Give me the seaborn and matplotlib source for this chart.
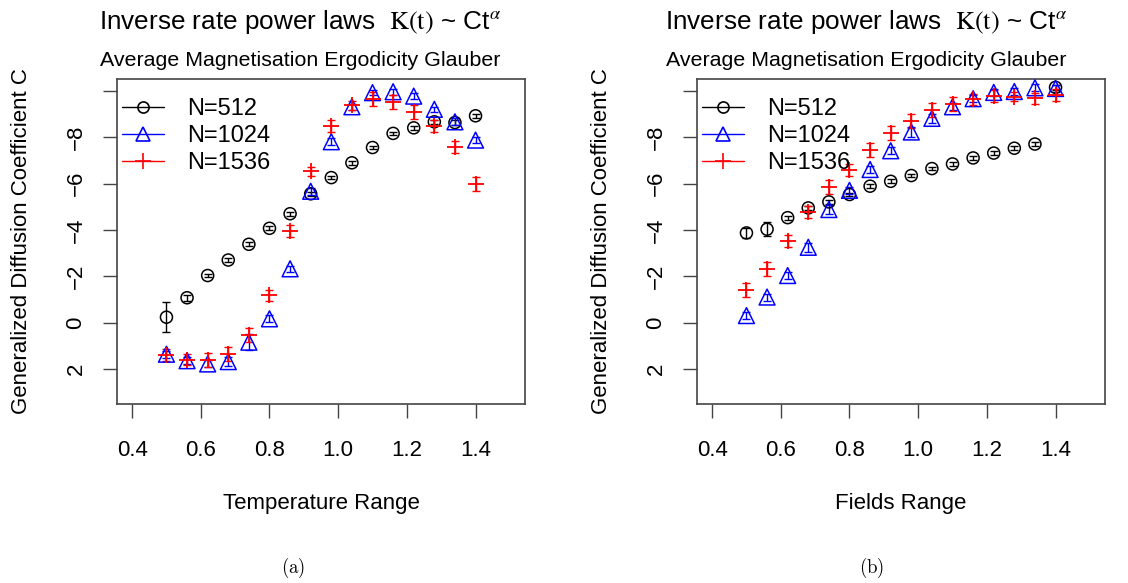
import matplotlib
matplotlib.use("Agg")
import matplotlib.pyplot as plt
from matplotlib.lines import Line2D
import seaborn as sns

# valores (eixo y invertido, como no original)
temp_x = [0.50, 0.56, 0.62, 0.68, 0.74, 0.80, 0.86, 0.92,
          0.98, 1.04, 1.10, 1.16, 1.22, 1.28, 1.34, 1.40]
fields_x = [0.50, 0.56, 0.62, 0.68, 0.74, 0.80, 0.86, 0.92,
            0.98, 1.04, 1.10, 1.16, 1.22, 1.28, 1.34, 1.40]

temp_512 = [-0.23, -1.07, -2.03, -2.70, -3.38, -4.07, -4.70, -5.56,
            -6.26, -6.90, -7.56, -8.17, -8.41, -8.67, -8.64, -8.93]
temp_512_err = [0.66, 0.12, 0.08, 0.08, 0.08, 0.08, 0.08, 0.08,
                0.08, 0.08, 0.08, 0.08, 0.08, 0.1, 0.1, 0.08]
temp_1024 = [1.37, 1.65, 1.79, 1.69, 0.85, -0.16, -2.32, -5.67,
             -7.81, -9.32, -9.93, -9.97, -9.78, -9.21, -8.67, -7.88]
temp_1024_err = [0.15, 0.15, 0.15, 0.2, 0.35, 0.15, 0.12, 0.15,
                 0.15, 0.12, 0.12, 0.12, 0.12, 0.12, 0.15, 0.12]
temp_1536 = [1.40, 1.60, 1.62, 1.36, 0.53, -1.17, -3.95, -6.54,
             -8.48, -9.39, -9.65, -9.54, -9.08, -8.50, -7.59, -5.97]
temp_1536_err = [0.25, 0.25, 0.3, 0.3, 0.3, 0.25, 0.25, 0.2,
                 0.25, 0.2, 0.3, 0.3, 0.3, 0.25, 0.25, 0.3]

fields_512 = [-3.87, -4.03, -4.53, -4.95, -5.21, -5.53, -5.89, -6.10,
              -6.35, -6.65, -6.85, -7.11, -7.32, -7.53, -7.71, -10.16]
fields_512_err = [0.2, 0.3, 0.08, 0.08, 0.08, 0.08, 0.08, 0.08,
                  0.08, 0.08, 0.08, 0.08, 0.08, 0.08, 0.08, 0.1]
fields_1024 = [-0.30, -1.10, -2.03, -3.25, -4.88, -5.71, -6.61, -7.42,
               -8.23, -8.82, -9.32, -9.67, -9.94, -9.98, -10.14, -10.11]
fields_1024_err = [0.15, 0.15, 0.15, 0.2, 0.2, 0.15, 0.15, 0.15,
                   0.2, 0.2, 0.15, 0.15, 0.15, 0.15, 0.15, 0.15]
fields_1536 = [-1.39, -2.31, -3.51, -4.78, -5.86, -6.58, -7.47, -8.17,
               -8.72, -9.18, -9.44, -9.64, -9.78, -9.75, -9.68, -9.83]
fields_1536_err = [0.3, 0.3, 0.25, 0.25, 0.3, 0.25, 0.3, 0.3,
                   0.3, 0.3, 0.3, 0.25, 0.25, 0.2, 0.25, 0.25]

series_labels = ["N=512", "N=1024", "N=1536"]
y_ticks = [-10, -8, -6, -4, -2, 0, 2]
y_tick_labels = ["", "\u22128", "\u22126", "\u22124", "\u22122", "0", "2"]
x_ticks = [0.4, 0.6, 0.8, 1.0, 1.2, 1.4]
x_tick_labels = ["0.4", "0.6", "0.8", "1.0", "1.2", "1.4"]

sns.set_style("ticks")
plt.rcParams["font.family"] = ["Liberation Sans", "DejaVu Sans"]
plt.rcParams["text.color"] = "black"
plt.rcParams["axes.labelcolor"] = "black"
plt.rcParams["xtick.color"] = "black"
plt.rcParams["ytick.color"] = "black"

cores = ["black", "blue", "red"]
marcadores = ["o", "^", "+"]
tamanhos = [75, 130, 140]

W, H = 1128, 583
fig = plt.figure(figsize=(W / 100, H / 100), dpi=100)


def painel(x0, x, series, erros, xlabel, caption, cx, tx):
    ax = fig.add_axes([x0 / W, (H - 404) / H, 408 / W, 325 / H])
    for y, e, cor, m, s in zip(series, erros, cores, marcadores, tamanhos):
        ax.errorbar(x, y, yerr=e, fmt="none", ecolor=cor, elinewidth=1.0,
                    capsize=3.2, capthick=1.0, zorder=2)
        if m == "+":
            sns.scatterplot(x=x, y=y, ax=ax, marker=m, s=s, color=cor,
                            linewidth=1.3, zorder=3, legend=False)
        else:
            sns.scatterplot(x=x, y=y, ax=ax, marker=m, s=s, facecolor="none",
                            edgecolor=cor, linewidth=1.1, zorder=3, legend=False)
    ax.set_xlim(0.356, 1.544)
    ax.set_ylim(3.52, -10.52)
    ax.set_xticks(x_ticks)
    ax.set_xticklabels(x_tick_labels)
    ax.set_yticks(y_ticks)
    ax.set_yticklabels(y_tick_labels, rotation=90, va="center")
    ax.tick_params(length=10, width=1.0, colors="black", labelsize=16, pad=16)
    ax.tick_params(color="#444444")
    ax.tick_params(axis="y", pad=12)
    for sp in ax.spines.values():
        sp.set_visible(True)
        sp.set_color("#444444")
        sp.set_linewidth(1.2)
    ax.set_xlabel(xlabel, fontsize=16, labelpad=23)
    ax.set_ylabel("Generalized Diffusion Coefficient C", fontsize=16, labelpad=24)
    handles = [Line2D([], [], color=c, marker=m, mfc="none", ms=ms, lw=1.0, mew=1.2)
               for c, m, ms in zip(cores, marcadores, [8, 10, 11])]
    ax.legend(handles, series_labels, loc="upper left", frameon=False, fontsize=17,
              handlelength=1.8, handletextpad=0.95, labelspacing=0.2,
              borderaxespad=0.0, borderpad=0.2, bbox_to_anchor=(0.0, 0.955))
    fig.text(tx / W, 1 - 22 / H, r"Inverse rate power laws  $\mathrm{K(t)}$ ~ Ct$^{\alpha}$",
             ha="center", va="center", fontsize=18.8, math_fontfamily="stix")
    fig.text(tx / W, 1 - 61 / H, "Average Magnetisation Ergodicity Glauber",
             ha="center", va="center", fontsize=15.4)
    fig.text(cx / W, 1 - 568 / H, r"$\mathrm{" + caption + "}$", ha="center",
             va="center", fontsize=13.5, math_fontfamily="cm")
    return ax


painel(117, temp_x, [temp_512, temp_1024, temp_1536],
       [temp_512_err, temp_1024_err, temp_1536_err], "Temperature Range", "(a)", 293, 300)
painel(697, fields_x, [fields_512, fields_1024, fields_1536],
       [fields_512_err, fields_1024_err, fields_1536_err], "Fields Range", "(b)", 872, 866)

fig.savefig("out.png", dpi=100)
